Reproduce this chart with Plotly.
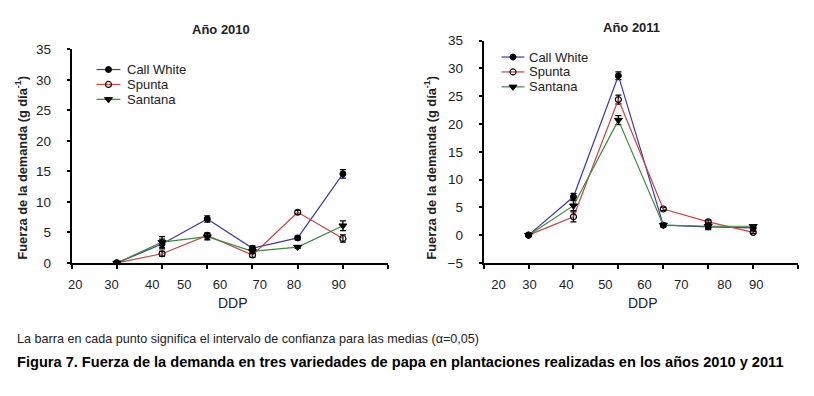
import plotly.graph_objects as go

# ---------------- data ----------------
sample_pos = [30, 40, 50, 60, 70, 80]          # sampling points along the DDP axis (as drawn)
tick_labels = ["20", "30", "40", "50", "60", "70", "80", "90"]
tick_pos_2010 = [20.8, 28.8, 37.8, 44.9, 52.8, 61.6, 69.2, 79.1]
tick_pos_2011 = [23.3, 30.2, 38.4, 47.1, 55.8, 64.0, 73.6, 80.7]

varieties = ["Call White", "Spunta", "Santana"]

cw_2010 = [0, 3.1, 7.2, 2.4, 4.1, 14.6]
cw_2010_err = [0, 0.8, 0.5, 0.4, 0.3, 0.7]
sp_2010 = [0, 1.5, 4.5, 1.3, 8.3, 4.0]
sp_2010_err = [0, 0.4, 0.4, 0.4, 0.3, 0.6]
sa_2010 = [0, 3.4, 4.3, 1.9, 2.6, 6.1]
sa_2010_err = [0, 0.9, 0.5, 0.3, 0.2, 0.8]

cw_2011 = [0, 6.9, 28.7, 1.8, 1.5, 1.3]
cw_2011_err = [0, 0.6, 0.7, 0.3, 0.3, 0.3]
sp_2011 = [0, 3.3, 24.4, 4.7, 2.4, 0.5]
sp_2011_err = [0, 0.9, 0.8, 0.3, 0.3, 0.2]
sa_2011 = [0, 5.3, 20.7, 1.8, 1.6, 1.6]
sa_2011_err = [0, 0.9, 0.8, 0.3, 0.6, 0.3]

# ---------------- styles ----------------
FONT = "Arial, 'Liberation Sans', sans-serif"
TXT = "#222222"
styles = {
    "Call White": dict(line=dict(color="#3a3aa8", width=1.2),
                       marker=dict(symbol="circle", size=6, color="black",
                                   line=dict(color="black", width=1))),
    "Spunta": dict(line=dict(color="#cc4444", width=1.2),
                   marker=dict(symbol="circle-open", size=6, color="black",
                               line=dict(color="black", width=1.2))),
    "Santana": dict(line=dict(color="#3a8a3a", width=1.2),
                    marker=dict(symbol="triangle-down", size=7, color="black",
                                line=dict(color="black", width=1))),
}

W, H = 814, 396
def px_x(p):
    return p / W
def px_y(p):
    return (H - p) / H

fig = go.Figure()

series = [
    ("x", "y", [(cw_2010, cw_2010_err), (sp_2010, sp_2010_err), (sa_2010, sa_2010_err)]),
    ("x2", "y2", [(cw_2011, cw_2011_err), (sp_2011, sp_2011_err), (sa_2011, sa_2011_err)]),
]
for xa, ya, data in series:
    for name, (vals, errs) in zip(varieties, data):
        st = styles[name]
        fig.add_trace(go.Scatter(
            x=sample_pos, y=vals, name=name, mode="lines+markers",
            xaxis=xa, yaxis=ya, showlegend=False,
            line=st["line"], marker=st["marker"],
            error_y=dict(type="data", array=errs, visible=True,
                         color="black", thickness=1.3, width=3),
        ))

# ---------------- legends (drawn on a full-page pixel overlay axis) ----------------
legend_boxes = [  # (line start x, line end x, text x, first row y, row step)
    (93, 117, 122, 65, 15.5),
    (500, 523, 526, 52, 15.5),
]
annotations = []
for lx0, lx1, tx, ly, step in legend_boxes:
    for i, name in enumerate(varieties):
        st = styles[name]
        yy = ly + i * step
        fig.add_trace(go.Scatter(x=[lx0, lx1], y=[yy, yy], mode="lines", line=st["line"],
                                 xaxis="x3", yaxis="y3", showlegend=False, hoverinfo="skip"))
        fig.add_trace(go.Scatter(x=[(lx0 + lx1) / 2], y=[yy], mode="markers", marker=st["marker"],
                                 xaxis="x3", yaxis="y3", showlegend=False, hoverinfo="skip"))
        annotations.append(dict(text=name, x=px_x(tx), y=px_y(yy), xanchor="left",
                                font=dict(size=13, color=TXT, family=FONT)))

common_x = dict(range=[20, 90], showline=True, linewidth=2, linecolor="black",
                showgrid=False, zeroline=False, ticks="", ticklabelstandoff=8,
                tickfont=dict(size=13, color=TXT, family=FONT),
                ticktext=tick_labels, tickmode="array",
                minor=dict(tickmode="linear", tick0=20, dtick=10, ticks="outside",
                           ticklen=4, tickwidth=1.5, tickcolor="black", showgrid=False))
common_y = dict(showline=True, linewidth=2, linecolor="black", showgrid=False,
                zeroline=False, ticks="outside", ticklen=3, tickwidth=1.5,
                tickcolor="black", dtick=5, ticklabelstandoff=13,
                tickfont=dict(size=13.5, color=TXT, family=FONT))

fig.update_layout(
    width=W, height=H, margin=dict(l=0, r=0, t=0, b=0),
    paper_bgcolor="white", plot_bgcolor="rgba(0,0,0,0)",
    font=dict(family=FONT, color=TXT),
    showlegend=False,
    xaxis=dict(domain=[px_x(68), px_x(386)], anchor="y", tickvals=tick_pos_2010, **common_x),
    yaxis=dict(domain=[px_y(266), px_y(44)], anchor="x", range=[0, 35], **common_y),
    xaxis2=dict(domain=[px_x(482), px_x(798)], anchor="y2", tickvals=tick_pos_2011, **common_x),
    yaxis2=dict(domain=[px_y(266), px_y(35)], anchor="x2", range=[-5, 35], **common_y),
    xaxis3=dict(domain=[0, 1], range=[0, W], visible=False, anchor="y3", fixedrange=True),
    yaxis3=dict(domain=[0, 1], range=[H, 0], visible=False, anchor="x3", fixedrange=True),
)

ytitle = "Fuerza de la demanda (g día<sup>-1</sup>)"
annotations += [
    dict(text="<b>Año 2010</b>", x=px_x(218), y=px_y(23)),
    dict(text="<b>Año 2011</b>", x=px_x(631), y=px_y(21)),
    dict(text="DDP", x=px_x(230), y=px_y(308), font=dict(size=14, color=TXT, family=FONT)),
    dict(text="DDP", x=px_x(642), y=px_y(308), font=dict(size=14, color=TXT, family=FONT)),
    dict(text="<b>" + ytitle + "</b>", x=px_x(17), y=px_y(167), textangle=-90,
         font=dict(size=12.8, color=TXT, family=FONT)),
    dict(text="<b>" + ytitle + "</b>", x=px_x(428), y=px_y(167), textangle=-90,
         font=dict(size=12.8, color=TXT, family=FONT)),
    dict(text="La barra en cada punto significa el intervalo de confianza para las medias (α=0,05)",
         x=px_x(11), y=px_y(345), xanchor="left", font=dict(size=12.6, color=TXT, family=FONT)),
    dict(text="<b>Figura 7. Fuerza de la demanda en tres variedades de papa en plantaciones realizadas en los años 2010 y 2011</b>",
         x=px_x(11), y=px_y(369), xanchor="left", font=dict(size=14.6, color="black", family=FONT)),
]
for a in annotations:
    a.setdefault("xanchor", "center")
    a.setdefault("font", dict(size=13, color=TXT, family=FONT))
    fig.add_annotation(xref="paper", yref="paper", showarrow=False, yanchor="middle", **a)

fig.write_html("out.html", config={"displayModeBar": False},
               post_script="document.body.style.margin='0';document.body.style.overflow='hidden';")
